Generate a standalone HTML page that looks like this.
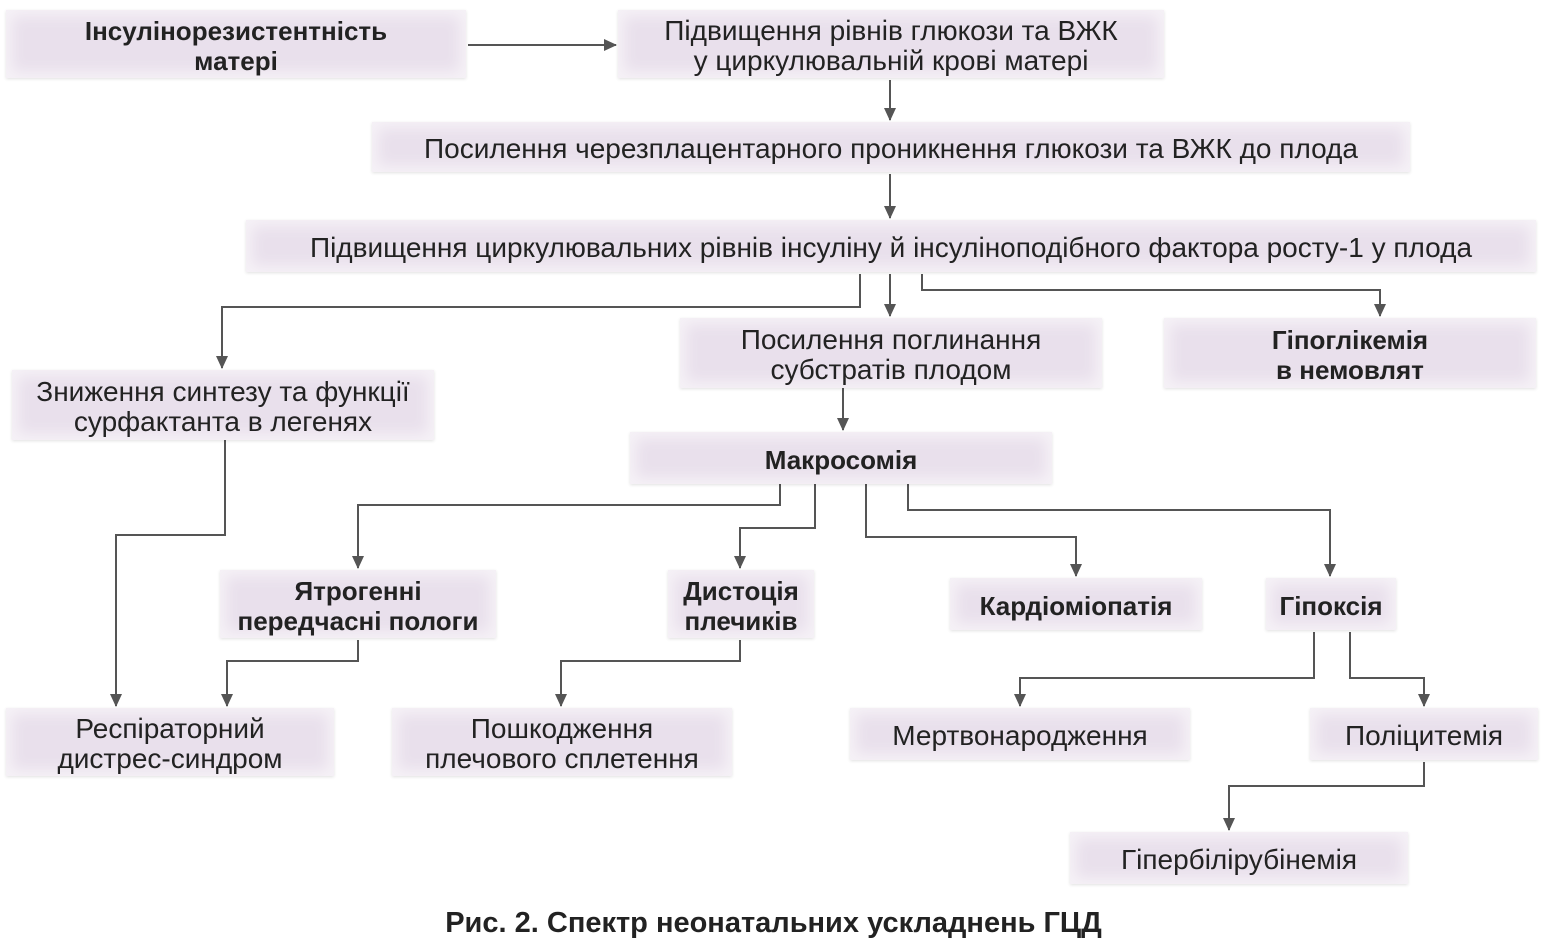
<!DOCTYPE html>
<html><head><meta charset="utf-8"><style>
body{margin:0;width:1547px;height:950px;background:#fff;position:relative;overflow:hidden;font-family:"Liberation Sans","DejaVu Sans",sans-serif;}
.b{position:absolute;box-sizing:border-box;background:#e9e0ec;box-shadow:inset 0 0 14px 6px #f6f2f7,0 1px 3px rgba(0,0,0,0.12);display:flex;align-items:center;justify-content:center;text-align:center;font-size:28px;line-height:30px;color:#222;padding-top:3px;white-space:nowrap;}
.k{font-weight:bold;font-size:26px;}
svg{position:absolute;left:0;top:0;}
.cap{position:absolute;left:0;width:1547px;top:907px;text-align:center;font-weight:bold;font-size:29px;color:#222;}
</style></head><body>
<svg width="1547" height="950">
<defs><marker id="a" markerWidth="14" markerHeight="14" refX="12" refY="6" orient="auto" markerUnits="userSpaceOnUse"><path d="M0,0 L13,6 L0,12 z" fill="#555"/></marker></defs>
<g fill="none" stroke="#555" stroke-width="2" marker-end="url(#a)">
<path d="M468,45 H616"/>
<path d="M890,80 V120"/>
<path d="M890,174 V218"/>
<path d="M860,274 V307 H222 V368"/>
<path d="M890,274 V316"/>
<path d="M922,274 V290 H1380 V316"/>
<path d="M843,388 V430"/>
<path d="M225,440 V535 H116 V706"/>
<path d="M780,484 V505 H358 V568"/>
<path d="M815,484 V528 H740 V568"/>
<path d="M866,484 V537 H1076 V576"/>
<path d="M908,484 V510 H1330 V576"/>
<path d="M358,640 V661 H227 V706"/>
<path d="M740,640 V661 H561 V706"/>
<path d="M1314,632 V678 H1020 V706"/>
<path d="M1350,632 V678 H1424 V706"/>
<path d="M1424,762 V786 H1229 V830"/>
</g></svg>
<div class="b k" style="left:6px;top:10px;width:460px;height:68px">Інсулінорезистентність<br>матері</div>
<div class="b" style="left:618px;top:10px;width:546px;height:68px">Підвищення рівнів глюкози та ВЖК<br>у циркулювальній крові матері</div>
<div class="b" style="left:372px;top:122px;width:1038px;height:50px">Посилення черезплацентарного проникнення глюкози та ВЖК до плода</div>
<div class="b" style="left:246px;top:220px;width:1290px;height:52px">Підвищення циркулювальних рівнів інсуліну й інсуліноподібного фактора росту-1 у плода</div>
<div class="b" style="left:680px;top:318px;width:422px;height:70px">Посилення поглинання<br>субстратів плодом</div>
<div class="b k" style="left:1164px;top:318px;width:372px;height:70px">Гіпоглікемія<br>в немовлят</div>
<div class="b" style="left:12px;top:370px;width:422px;height:70px">Зниження синтезу та функції<br>сурфактанта в легенях</div>
<div class="b k" style="left:630px;top:432px;width:422px;height:52px">Макросомія</div>
<div class="b k" style="left:220px;top:570px;width:276px;height:68px">Ятрогенні<br>передчасні пологи</div>
<div class="b k" style="left:668px;top:570px;width:146px;height:68px">Дистоція<br>плечиків</div>
<div class="b k" style="left:950px;top:578px;width:252px;height:52px">Кардіоміопатія</div>
<div class="b k" style="left:1266px;top:578px;width:130px;height:52px">Гіпоксія</div>
<div class="b" style="left:6px;top:708px;width:328px;height:68px">Респіраторний<br>дистрес-синдром</div>
<div class="b" style="left:392px;top:708px;width:340px;height:68px">Пошкодження<br>плечового сплетення</div>
<div class="b" style="left:850px;top:708px;width:340px;height:52px">Мертвонародження</div>
<div class="b" style="left:1310px;top:708px;width:228px;height:52px">Поліцитемія</div>
<div class="b" style="left:1070px;top:832px;width:338px;height:52px">Гіпербілірубінемія</div>
<div class="cap">Рис. 2. Спектр неонатальних ускладнень ГЦД</div>
</body></html>
